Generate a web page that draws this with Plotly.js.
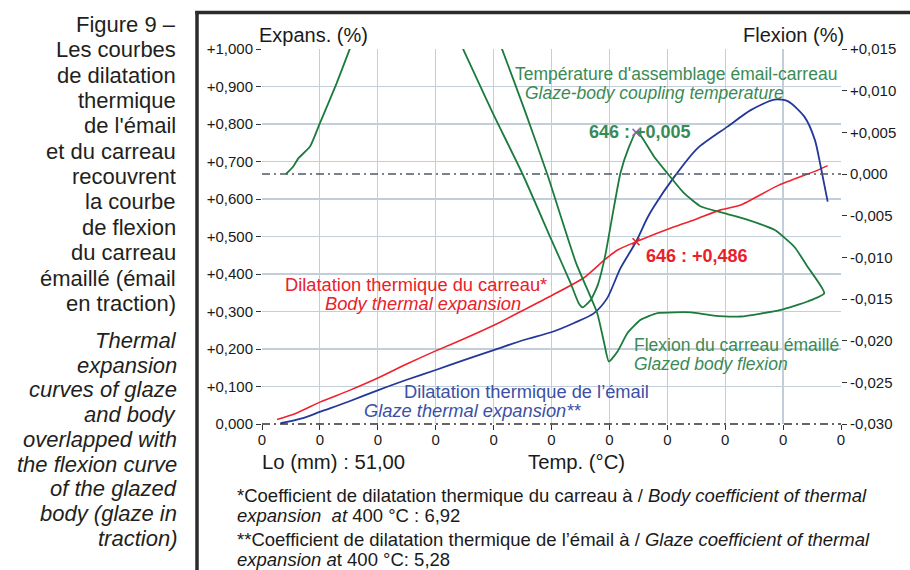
<!DOCTYPE html>
<html>
<head>
<meta charset="utf-8">
<script src="https://cdn.plot.ly/plotly-3.0.1.min.js"></script>
<style>html,body{margin:0;padding:0;background:#fff;}#chart{width:910px;height:570px;}</style>
</head>
<body>
<div id="chart"></div>
<script>
// ---------- DATA ----------
// Body thermal expansion (red) : temperature (°C) / expansion (%)
const bodyTemp = [26, 58, 101, 150, 202, 250, 300, 350, 404, 452, 502, 556, 591, 614, 646, 712, 746, 792, 827, 890, 960, 977];
const bodyExp  = [0.012, 0.028, 0.059, 0.089, 0.124, 0.160, 0.195, 0.228, 0.266, 0.304, 0.344, 0.390, 0.437, 0.464, 0.486, 0.526, 0.544, 0.571, 0.584, 0.635, 0.677, 0.689];

// Glaze thermal expansion (blue)
const glazeTemp = [32, 69, 101, 150, 202, 250, 300, 350, 404, 452, 502, 540, 573, 596, 619, 646, 665, 677, 712, 752, 804, 844, 885, 908, 937, 955, 965, 977];
const glazeExp  = [0.002, 0.015, 0.033, 0.060, 0.091, 0.118, 0.144, 0.171, 0.199, 0.224, 0.246, 0.270, 0.295, 0.335, 0.415, 0.486, 0.548, 0.580, 0.659, 0.735, 0.793, 0.837, 0.865, 0.861, 0.819, 0.757, 0.686, 0.593];

// Glazed body flexion (green), right axis; null = curve leaves the chart at the top
const flexTemp = [41.5, 54, 63, 83, 100, 129, 151, 156, null,
  343, 348, 398, 450, 498, 533, 547, 554, 568, 580, 593, 607, 619, 633, 646,
  654, 677, 700, 729, 758, 798, 839, 885, 919, 942, 971,
  942, 896, 827, 780, 741, 683, 654, 631, 614, 599, 591, 579, 542, 493, 455, 415, 410];
const flexVal = [0.0000, 0.0009, 0.0019, 0.0033, 0.0061, 0.0109, 0.0149, 0.0158, null,
  0.0157, 0.0149, 0.0074, 0.0000, -0.0076, -0.0131, -0.0155, -0.0160, -0.0151, -0.0133, -0.0097, -0.0043, 0.0001, 0.0031, 0.0050,
  0.0046, 0.0021, 0.0001, -0.0023, -0.0039, -0.0047, -0.0055, -0.0067, -0.0087, -0.0111, -0.0143,
  -0.0153, -0.0163, -0.0171, -0.0170, -0.0166, -0.0167, -0.0175, -0.0191, -0.0213, -0.0225, -0.0203, -0.0167, -0.0106, -0.0001, 0.0074, 0.0149, 0.0157];

// Marked points
const couplingTemp = [646];
const couplingExp  = [0.486];
const couplingFlex = [0.005];

// Tick labels
const xTickVals = [0, 100, 200, 300, 400, 500, 600, 700, 800, 900, 1000];
const xTickText = ["0", "0", "0", "0", "0", "0", "0", "0", "0", "0", "0"];
const yTickVals = [0, 0.1, 0.2, 0.3, 0.4, 0.5, 0.6, 0.7, 0.8, 0.9, 1.0];
const yTickText = ["0,000", "+0,100", "+0,200", "+0,300", "+0,400", "+0,500", "+0,600", "+0,700", "+0,800", "+0,900", "+1,000"];
const y2TickVals = [0.015, 0.010, 0.005, 0, -0.005, -0.010, -0.015, -0.020, -0.025, -0.030];
const y2TickText = ["+0,015", "+0,010", "+0,005", "0,000", "-0,005", "-0,010", "-0,015", "-0,020", "-0,025", "-0,030"];

// Caption texts
const captionFr = ["Figure 9 –", "Les courbes", "de dilatation", "thermique", "de l'émail", "et du carreau", "recouvrent", "la courbe", "de flexion", "du carreau", "émaillé (émail", "en traction)"];
const captionEn = ["Thermal", "expansion", "curves of glaze", "and body", "overlapped with", "the flexion curve", "of the glazed", "body (glaze in", "traction)"];

// ---------- STYLE ----------
const FONT = "Liberation Sans, Arial, Helvetica, sans-serif";
const RED = "#f0222c", BLUE = "#24389a", GREEN = "#1b7b3c";
const RED_T = "#e8212b", BLUE_T = "#3b50a6", GREEN_T = "#3a8a55";
const L = 262, R = 69, T = 49, B = 146, W = 910, H = 570;
const PW = W - L - R, PH = H - T - B;
const px = v => (v - L) / PW;
const py = v => (H - B - v) / PH;

function ann(text, x, y, size, color, xanchor, extra) {
  return Object.assign({
    text: text, xref: "paper", yref: "paper", x: px(x), y: py(y),
    xanchor: xanchor || "left", yanchor: "middle", showarrow: false,
    font: {family: FONT, size: size, color: color}, borderpad: 0
  }, extra || {});
}

const traces = [
  {x: bodyTemp, y: bodyExp, type: "scatter", mode: "lines", line: {color: RED, width: 1.6, shape: "spline", smoothing: 0.6}, hoverinfo: "skip"},
  {x: glazeTemp, y: glazeExp, type: "scatter", mode: "lines", line: {color: BLUE, width: 1.8, shape: "spline", smoothing: 0.7}, hoverinfo: "skip"},
  {x: flexTemp, y: flexVal, yaxis: "y2", type: "scatter", mode: "lines", connectgaps: false, line: {color: GREEN, width: 1.8, shape: "spline", smoothing: 0.5}, hoverinfo: "skip"},
  {x: couplingTemp, y: couplingExp, type: "scatter", mode: "markers", marker: {symbol: "x-thin-open", size: 7, line: {color: "#5a1a1a", width: 1.6}}, hoverinfo: "skip"},
  {x: couplingTemp, y: couplingFlex, yaxis: "y2", type: "scatter", mode: "markers", marker: {symbol: "x-thin-open", size: 7, line: {color: "#e02020", width: 1.6}}, hoverinfo: "skip"}
];

const annotations = [];
captionFr.forEach((t, i) => annotations.push(ann(t, 177, 24.5 + i * 25.35, 22, "#231f20", "right")));
captionEn.forEach((t, i) => annotations.push(ann("<i>" + t + "</i>", 178, 340.5 + i * 24.7, 22, "#231f20", "right")));

annotations.push(
  ann("Expans. (%)", 258, 35.5, 20, "#1a1a1a", "left"),
  ann("Flexion (%)", 845, 35.5, 20, "#1a1a1a", "right"),
  ann("Température d'assemblage émail-carreau", 838, 74.5, 17.5, GREEN_T, "right"),
  ann("<i>Glaze-body coupling temperature</i>", 785, 93, 17.5, GREEN_T, "right"),
  ann("<b>646 : +0,005</b>", 588, 131.5, 18, GREEN_T, "left"),
  ann("<b>646 : +0,486</b>", 645, 255.5, 18, RED_T, "left"),
  ann("Dilatation thermique du carreau*", 548, 284, 18.3, RED_T, "right"),
  ann("<i>Body thermal expansion</i>", 522, 303.5, 18.3, RED_T, "right"),
  ann("Flexion du carreau émaillé", 633, 344.5, 17.5, GREEN_T, "left"),
  ann("<i>Glazed body flexion</i>", 633, 364, 17.5, GREEN_T, "left"),
  ann("Dilatation thermique de l’émail", 403, 391, 18.3, BLUE_T, "left"),
  ann("<i>Glaze thermal expansion**</i>", 363, 410.5, 18.3, BLUE_T, "left"),
  ann("Lo (mm) : 51,00", 261, 462, 20.3, "#1a1a1a", "left"),
  ann("Temp. (°C)", 527, 462, 20.3, "#1a1a1a", "left"),
  ann("*Coefficient de dilatation thermique du carreau à / <i>Body coefficient of thermal</i>", 236, 495.5, 18.5, "#1a1a1a", "left"),
  ann("<i>expansion  at</i> 400 °C : 6,92", 236, 515, 18.5, "#1a1a1a", "left"),
  ann("**Coefficient de dilatation thermique de l’émail à / <i>Glaze coefficient of thermal</i>", 236, 539.5, 18.5, "#1a1a1a", "left"),
  ann("<i>expansion a</i>t 400 °C: 5,28", 236, 559, 18.5, "#1a1a1a", "left")
);

const shapes = [
  // dash-dot zero flexion line
  {type: "line", xref: "paper", yref: "y2", x0: 0, x1: 1, y0: 0, y1: 0, line: {color: "#4f5a66", width: 1.3, dash: "8px,4px,2px,4px"}},
  // dash-dot bottom baseline
  {type: "line", xref: "paper", yref: "paper", x0: 0, x1: 1, y0: 0, y1: 0, line: {color: "#333", width: 1.3, dash: "8px,4px,2px,4px"}},
  // frame
  {type: "line", xref: "paper", yref: "paper", x0: px(197), x1: px(197), y0: py(11), y1: py(572), line: {color: "#2b2b2b", width: 3.5}},
  {type: "line", xref: "paper", yref: "paper", x0: px(195.3), x1: px(912), y0: py(12.5), y1: py(12.5), line: {color: "#2b2b2b", width: 3.5}}
];

const axisFont = {family: FONT, size: 15, color: "#1a1a1a"};
const layout = {
  width: W, height: H,
  margin: {l: L, r: R, t: T, b: B, pad: 0},
  paper_bgcolor: "#ffffff", plot_bgcolor: "#ffffff",
  showlegend: false,
  xaxis: {range: [0, 1000], tickmode: "array", tickvals: xTickVals, ticktext: xTickText,
    showgrid: true, gridcolor: "#c2cfdb", gridwidth: 1.2, zeroline: false, showline: false,
    ticks: "outside", ticklen: 5, tickcolor: "#333", tickfont: axisFont, ticklabelstandoff: -3, fixedrange: true},
  yaxis: {range: [0, 1], tickmode: "array", tickvals: yTickVals, ticktext: yTickText,
    showgrid: true, gridcolor: "#c2cfdb", gridwidth: 1.2, zeroline: false, showline: false,
    ticks: "outside", ticklen: 5, tickcolor: "#333", tickfont: axisFont, fixedrange: true},
  yaxis2: {range: [-0.03, 0.015], overlaying: "y", side: "right", tickmode: "array", tickvals: y2TickVals, ticktext: y2TickText,
    showgrid: false, zeroline: false, showline: false,
    ticks: "outside", ticklen: 5, tickcolor: "#333", tickfont: axisFont, fixedrange: true},
  annotations: annotations,
  shapes: shapes
};

Plotly.newPlot("chart", traces, layout, {displayModeBar: false, staticPlot: true});
</script>
</body>
</html>
